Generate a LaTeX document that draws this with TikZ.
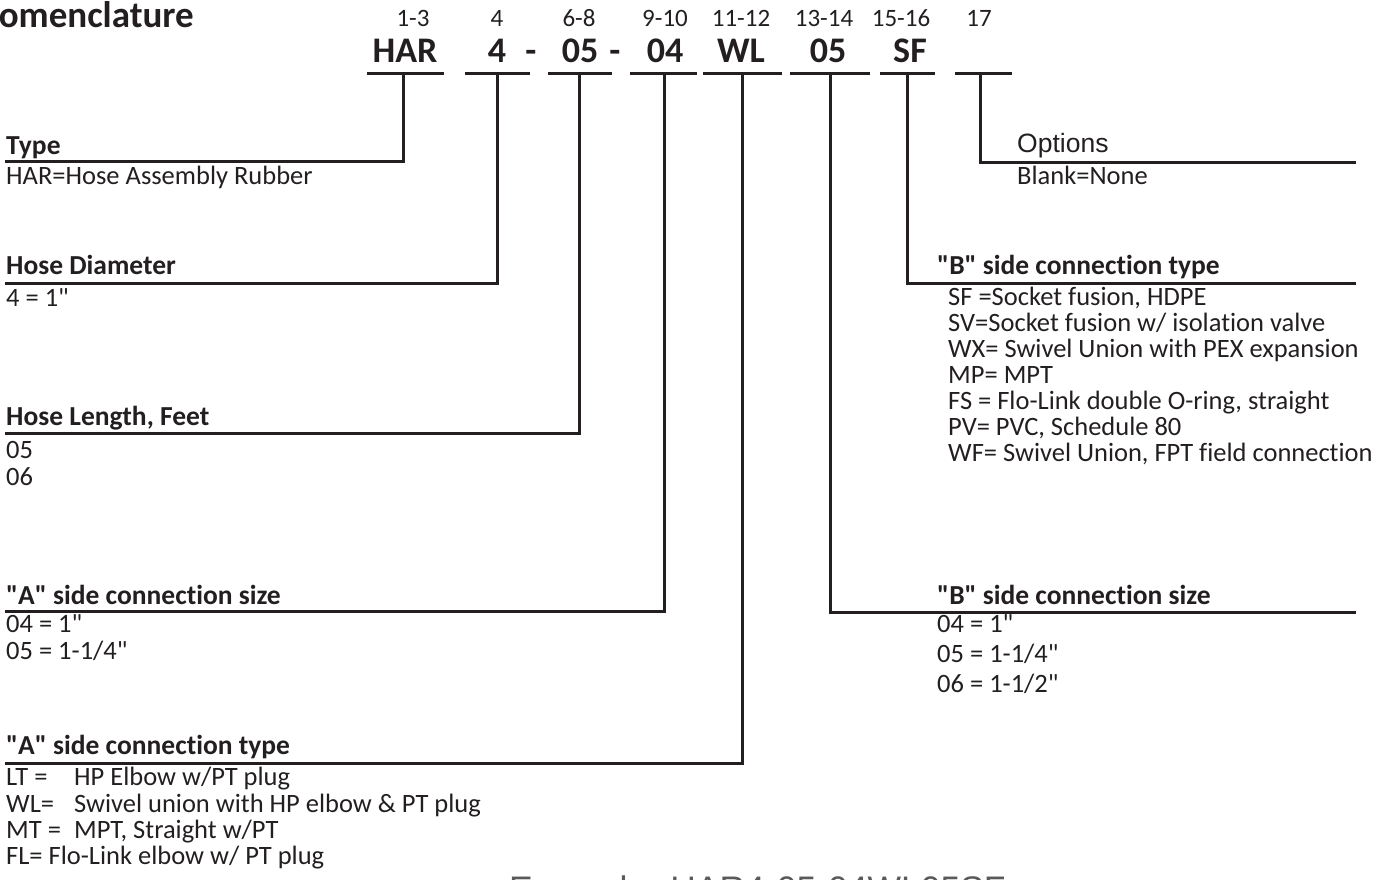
\documentclass[tikz,border=0pt]{standalone}
\usepackage{fontspec}
\setmainfont{Carlito}[Ligatures={NoCommon}]
\newfontfamily\calf{Carlito}[Ligatures={NoCommon}]
\newfontfamily\arialf{Liberation Sans}
\newcommand{\dq}{\symbol{34}}
\definecolor{ink}{HTML}{231F20}
\definecolor{exgray}{HTML}{5A5A5A}
\begin{document}
\begin{tikzpicture}[x=1pt,y=-1pt,
  txt/.style={inner sep=0pt, anchor=base west, font=\calf\fontsize{26.5}{26}\selectfont, text=ink},
  hd/.style={inner sep=0pt, anchor=base west, font=\calf\fontsize{27.5}{26}\selectfont\bfseries, text=ink},
  num/.style={inner sep=0pt, anchor=base, font=\calf\fontsize{25}{25}\selectfont, text=ink},
  code/.style={inner sep=0pt, anchor=base, font=\calf\fontsize{36}{36}\selectfont\bfseries, text=ink},
  rule/.style={line width=3pt, draw=ink},
]
\useasboundingbox (0,0) rectangle (1391,880);

% title (first letter cut by the left edge)
\node[inner sep=0pt, anchor=base east, font=\calf\fontsize{37}{37}\selectfont\bfseries, text=ink] (title) at (194,28) {Nomenclature};

% position numbers
\node[num] (n1) at (413,27) {1-3};
\node[num] (n2) at (497,27) {4};
\node[num] (n3) at (579,27) {6-8};
\node[num] (n4) at (665,27) {9-10};
\node[num] (n5) at (741,27) {11-12};
\node[num] (n6) at (824,27) {13-14};
\node[num] (n7) at (901,27) {15-16};
\node[num] (n8) at (979,27) {17};

% code
\node[code] (c1) at (405,63) {HAR};
\node[code] (c2) at (497,63) {4};
\node[code] (d1) at (531,63) {-};
\node[code] (c3) at (580,63) {05};
\node[code] (d2) at (615,63) {-};
\node[code] (c4) at (665,63) {04};
\node[code] (c5) at (741,63) {WL};
\node[code] (c6) at (828,63) {05};
\node[code] (c7) at (910,63) {SF};

% underlines
\draw[rule] (367,74) -- (444,74);
\draw[rule] (465,74) -- (530,74);
\draw[rule] (548,74) -- (612,74);
\draw[rule] (630,74) -- (697,74);
\draw[rule] (703,74) -- (782,74);
\draw[rule] (790,74) -- (870,74);
\draw[rule] (880,74) -- (935,74);
\draw[rule] (955,74) -- (1012,74);

% tick coordinates
\coordinate (t1) at (403,74);
\coordinate (t2) at (497,74);
\coordinate (t3) at (579,74);
\coordinate (t4) at (664,74);
\coordinate (t5) at (742,74);
\coordinate (t6) at (830,74);
\coordinate (t7) at (907,74);
\coordinate (t8) at (980,74);

% line ends
\coordinate (e1) at (5,161);
\coordinate (e2) at (5,283);
\coordinate (e3) at (5,433);
\coordinate (e4) at (5,611);
\coordinate (e5) at (5,763);
\coordinate (e6) at (1356,612);
\coordinate (e7) at (1356,283);
\coordinate (e8) at (1356,162);

\draw[rule] (t1) |- (e1);
\draw[rule] (t2) |- (e2);
\draw[rule] (t3) |- (e3);
\draw[rule] (t4) |- (e4);
\draw[rule] (t5) |- (e5);
\draw[rule] (t6) |- (e6);
\draw[rule] (t7) |- (e7);
\draw[rule] (t8) |- (e8);

% left column
\node[hd] (h1) at (6,154) {Type};
\node[txt] (v1a) at (6,184) {HAR=Hose Assembly Rubber};

\node[hd] (h2) at (6,274) {Hose Diameter};
\node[txt] (v2a) at (6,306) {4 = 1\dq};

\node[hd] (h3) at (6,425) {Hose Length, Feet};
\node[txt] (v3a) at (6,458) {05};
\node[txt] (v3b) at (6,485) {06};

\node[hd] (h4) at (6,604) {\dq A\dq{} side connection size};
\node[txt] (v4a) at (6,632) {04 = 1\dq};
\node[txt] (v4b) at (6,659) {05 = 1-1/4\dq};

\node[hd] (h5) at (6,754) {\dq A\dq{} side connection type};
\node[txt] (v5a) at (6,785) {\makebox[68pt][l]{LT =}HP Elbow w/PT plug};
\node[txt] (v5b) at (6,812) {\makebox[68pt][l]{WL=}Swivel union with HP elbow \& PT plug};
\node[txt] (v5c) at (6,838) {\makebox[68pt][l]{MT =}MPT, Straight w/PT};
\node[txt] (v5d) at (6,864) {FL= Flo-Link elbow w/ PT plug};

% right column
\node[txt, font=\fontsize{26.5}{26}\selectfont\arialf] (h8) at (1017,153) {Options};
\node[txt] (v8a) at (1017,184) {Blank=None};

\node[hd] (h7) at (937,274) {\dq B\dq{} side connection type};
\node[txt] (v7a) at (948,305) {SF =Socket fusion, HDPE};
\node[txt] (v7b) at (948,331) {SV=Socket fusion w/ isolation valve};
\node[txt] (v7c) at (948,357) {WX= Swivel Union with PEX expansion};
\node[txt] (v7d) at (948,383) {MP= MPT};
\node[txt] (v7e) at (948,409) {FS = Flo-Link double O-ring, straight};
\node[txt] (v7f) at (948,435) {PV= PVC, Schedule 80};
\node[txt] (v7g) at (948,461) {WF= Swivel Union, FPT field connection};

\node[hd] (h6) at (937,604) {\dq B\dq{} side connection size};
\node[txt] (v6a) at (937,632) {04 = 1\dq};
\node[txt] (v6b) at (937,662) {05 = 1-1/4\dq};
\node[txt] (v6c) at (937,692) {06 = 1-1/2\dq};

% example (cut by the bottom edge)
\node[inner sep=0pt, anchor=base west, font=\fontsize{35.5}{35}\selectfont\arialf, text=exgray] (ex) at (509,901) {Example: HAR4-05-04WL05SF};
\end{tikzpicture}
\end{document}
